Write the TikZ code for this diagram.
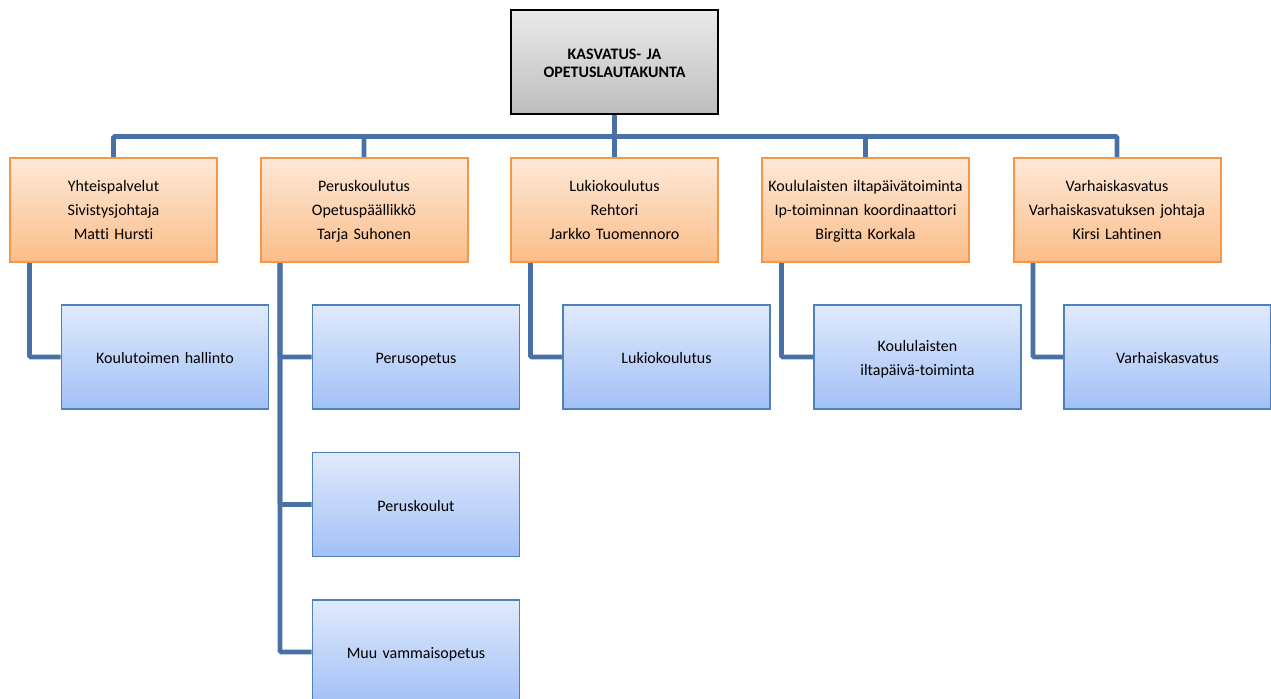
\documentclass[tikz,border=0pt]{standalone}
\usepackage{fontspec}
\setmainfont{Carlito}[Ligatures=NoCommon]
\usetikzlibrary{calc}

\definecolor{linkblue}{HTML}{4A71A5}
\definecolor{boardtop}{HTML}{EAEAEA}
\definecolor{boardbottom}{HTML}{BDBDBD}
\definecolor{unitborder}{HTML}{F79646}
\definecolor{unittop}{HTML}{FDE9D9}
\definecolor{unitbottom}{HTML}{FBBD88}
\definecolor{subborder}{HTML}{4F81BD}
\definecolor{subtop}{HTML}{E0EAFC}
\definecolor{subbottom}{HTML}{A2C0F6}

\tikzset{
  box/.style={draw, inner sep=0pt, text width=155.25pt, minimum height=78pt,
    align=center, font=\fontsize{12}{18}\selectfont},
  boardbox/.style={box, draw=black, line width=1.5pt, top color=boardtop,
    bottom color=boardbottom, font=\bfseries\fontsize{12}{14}\selectfont,
    execute at begin node={\rule{0pt}{13.2pt}}, execute at end node=\strut},
  unitbox/.style={box, draw=unitborder, line width=1.5pt, top color=unittop,
    bottom color=unitbottom, execute at begin node={\rule{0pt}{14.1pt}},
    execute at end node=\strut},
  subbox/.style={box, draw=subborder, line width=1.2pt, top color=subtop,
    bottom color=subbottom, execute at begin node={\rule{0pt}{15.6pt}},
    execute at end node=\strut},
  link/.style={draw=linkblue, line width=3.6pt, rounded corners=1pt}
}

\begin{document}
\begin{tikzpicture}[x=0.75pt, y=-0.75pt]
      \useasboundingbox (0,0) rectangle (1271,699);
      \clip (0,0) rectangle (1271,699);

      \node[boardbox] (board) at (614.5,62.5) {KASVATUS- JA\\OPETUSLAUTAKUNTA};

      \node[unitbox] (yhteis) at (113.5,210) {Yhteispalvelut\\Sivistysjohtaja\\Matti Hursti};
      \node[unitbox] (perus) at (364,210) {Peruskoulutus\\Opetuspäällikkö\\Tarja Suhonen};
      \node[unitbox] (lukio) at (614.5,210) {Lukiokoulutus\\Rehtori\\Jarkko Tuomennoro};
      \node[unitbox] (ilta) at (865.5,210) {Koululaisten iltapäivätoiminta\\Ip-toiminnan koordinaattori\\Birgitta Korkala};
      \node[unitbox] (varhais) at (1117,210) {Varhaiskasvatus\\Varhaiskasvatuksen johtaja\\Kirsi Lahtinen};

      \node[subbox] (hallinto) at (165,357) {Koulutoimen hallinto};
      \node[subbox] (perusopetus) at (416,357) {Perusopetus};
      \node[subbox] (peruskoulut) at (416,504.5) {Peruskoulut};
      \node[subbox] (vammais) at (416,652) {Muu vammaisopetus};
      \node[subbox] (lukiosub) at (666.5,357) {Lukiokoulutus};
      \node[subbox] (iltasub) at (917.5,357) {Koululaisten\\iltapäivä-toiminta};
      \node[subbox] (varhaissub) at (1167.5,357) {Varhaiskasvatus};

      \draw[link] (board.south) -- ++(0,21) -| (yhteis.north);
      \draw[link] (board.south) -- ++(0,21) -| (perus.north);
      \draw[link] (board.south) -- (lukio.north);
      \draw[link] (board.south) -- ++(0,21) -| (ilta.north);
      \draw[link] (board.south) -- ++(0,21) -| (varhais.north);

      \draw[link] ($(yhteis.south west)+(20.5,0)$) |- (hallinto.west);
      \draw[link] ($(perus.south west)+(20.5,0)$) |- (perusopetus.west);
      \draw[link] ($(perus.south west)+(20.5,0)$) |- (peruskoulut.west);
      \draw[link] ($(perus.south west)+(20.5,0)$) |- (vammais.west);
      \draw[link] ($(lukio.south west)+(20.5,0)$) |- (lukiosub.west);
      \draw[link] ($(ilta.south west)+(20.5,0)$) |- (iltasub.west);
      \draw[link] ($(varhais.south west)+(20.5,0)$) |- (varhaissub.west);
\end{tikzpicture}
\end{document}
